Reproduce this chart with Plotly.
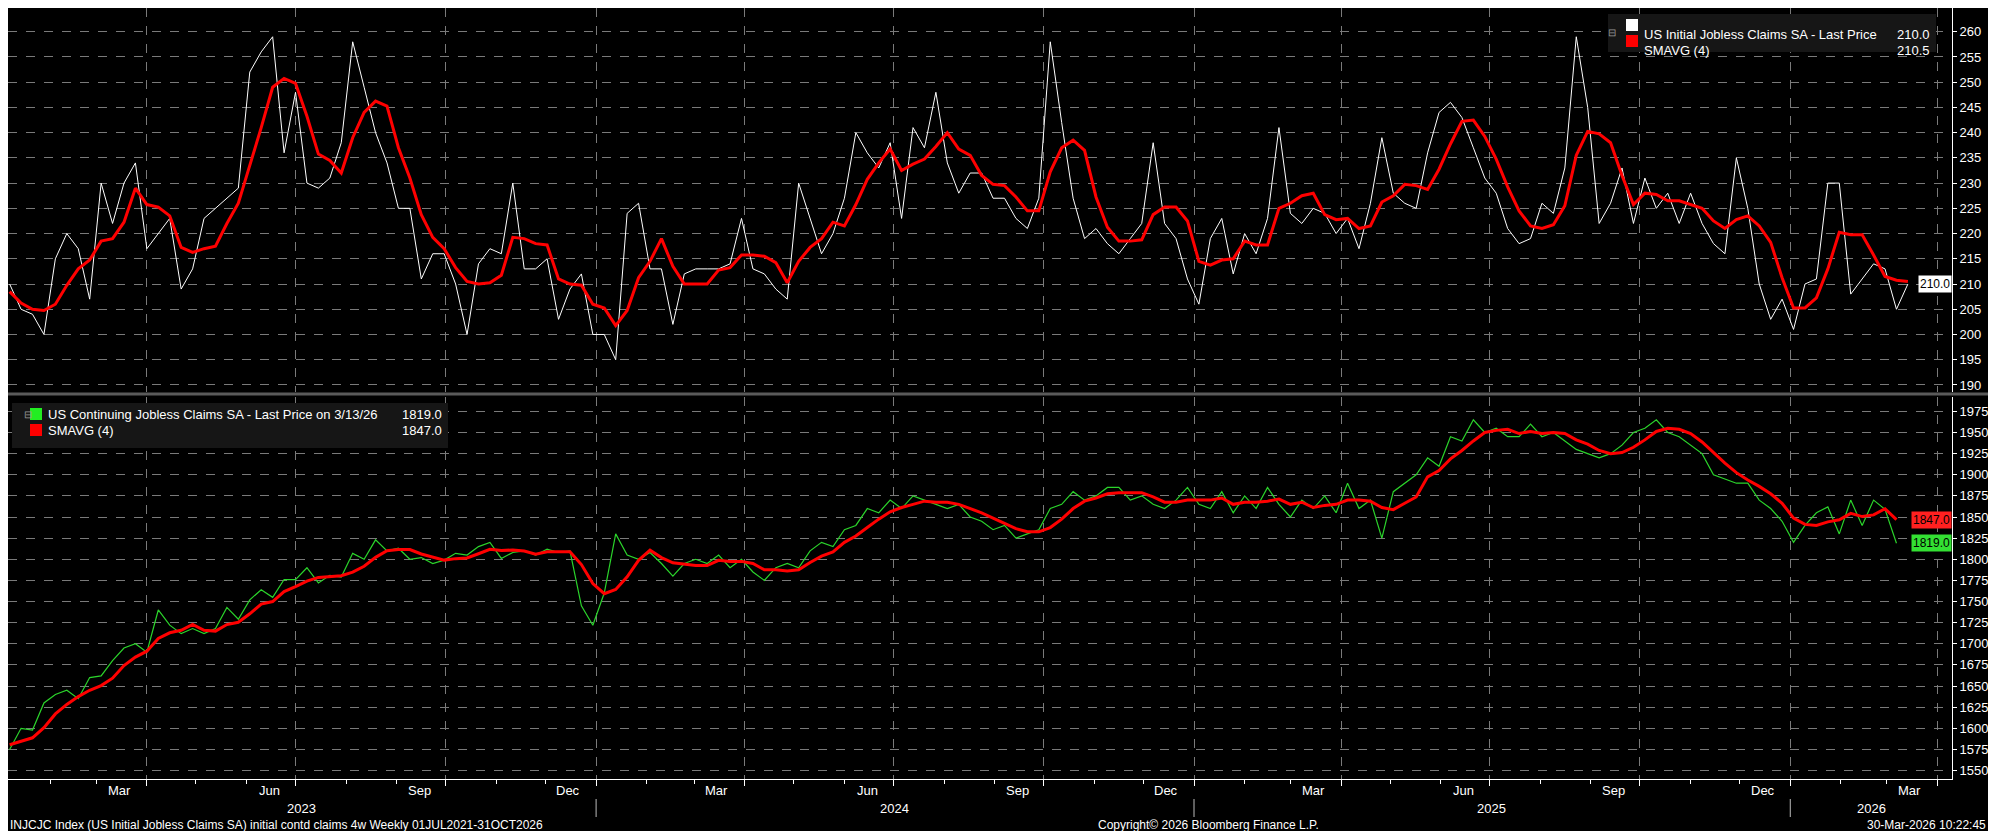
import pandas as pd
import plotly.graph_objects as go
from plotly.subplots import make_subplots

# weekly readings, thousands (first 3 = Dec 2022, only feed the moving average)
initial_prior = [214, 209, 201]
initial_claims = [
    210, 205, 204, 200, 215, 220, 217, 207, 230, 222, 230, 234, 217, 220, 223, 209, 213, 223, 225, 227,
    229, 252, 256, 259, 236, 248, 230, 229, 231, 238, 258, 249, 240, 234, 225,
    225, 211, 216, 216, 210, 200, 214, 217, 216, 230, 213, 213, 215, 203, 209, 212, 200, 200, 195, 224,
    226, 213, 213, 202, 212, 213, 213, 213, 214, 223, 213, 212, 209, 207,
    230, 223, 216, 220, 227, 240, 236, 233, 238, 223, 241, 237, 248, 234, 228, 232, 232, 227, 227, 223,
    221, 227, 258, 242, 227, 219, 221, 218, 216, 219, 222, 238, 222, 219,
    211, 206, 219, 223, 212, 220, 216, 223, 241, 224, 222, 225, 224, 220, 223, 217, 226, 239, 228, 226,
    225, 236, 244, 246, 243, 237, 231, 228, 221, 218, 219, 226, 224, 233,
    259, 245, 222, 226, 233, 222, 231, 225, 228, 222, 228, 222, 218, 216, 235, 225, 210, 203, 207, 201,
    210, 211, 230, 230, 208, 211, 214, 213, 205, 210,
]

cont_prior = [1585, 1580, 1582]
cont_claims = [
    1575, 1600, 1598, 1630, 1640, 1645, 1635, 1660, 1662, 1680, 1695, 1700, 1690, 1740, 1722, 1712, 1718, 1712, 1718,
    1743, 1729, 1752, 1764, 1755, 1776, 1776, 1790, 1772, 1781, 1779, 1807, 1800, 1823, 1810, 1813, 1800, 1802,
    1795, 1799, 1807, 1805, 1815, 1820, 1801,
    1808, 1810, 1805, 1812, 1808, 1810, 1745, 1722, 1760, 1830,
    1805, 1800, 1808, 1795, 1780, 1795, 1800, 1795, 1805, 1790,
    1800, 1785, 1775, 1790, 1795, 1790, 1810, 1820, 1815, 1835,
    1840, 1860, 1855, 1870, 1860, 1875, 1870, 1865, 1860, 1865,
    1850, 1845, 1835, 1840, 1825, 1830, 1835, 1860, 1865, 1880,
    1870, 1875, 1885, 1885, 1870, 1875, 1865, 1860, 1870, 1885,
    1865, 1860, 1880, 1855, 1875, 1860, 1885, 1865, 1850, 1870,
    1860, 1875, 1855, 1890, 1860, 1870, 1825, 1880, 1890, 1900,
    1920, 1910, 1945, 1940, 1965,
    1950, 1955, 1945, 1945, 1960, 1945, 1950, 1940, 1930, 1925, 1920, 1925, 1935, 1950, 1955, 1965,
    1950, 1945, 1935, 1925, 1900, 1895, 1890, 1890, 1870, 1860, 1845, 1820, 1840, 1855, 1862, 1830,
    1870, 1840, 1870, 1859, 1819,
]

month_labels = ["Mar", "Jun", "Sep", "Dec"]
years = [2023, 2024, 2025, 2026]

init_dates = pd.date_range("2022-12-17", periods=len(initial_prior) + len(initial_claims), freq="7D")
cont_dates = pd.date_range("2022-12-17", periods=len(cont_prior) + len(cont_claims), freq="7D")
init = pd.Series(initial_prior + initial_claims, index=init_dates)
cont = pd.Series(cont_prior + cont_claims, index=cont_dates)
init_sma = init.rolling(4).mean().iloc[3:]
cont_sma = cont.rolling(4).mean().iloc[3:]
init = init.iloc[3:]
cont = cont.iloc[3:]

x0, x1 = "2023-01-06", "2026-04-10"
W, H = 1944, 771   # plot area in px
FONT = "Liberation Sans Narrow, Arial Narrow, Liberation Sans, sans-serif"
FS = 13

fig = make_subplots(rows=2, cols=1, shared_xaxes=True, vertical_spacing=0.006)
fig.add_trace(go.Scatter(x=init.index, y=init.values, mode="lines",
                         line=dict(color="#ffffff", width=1)), row=1, col=1)
fig.add_trace(go.Scatter(x=init_sma.index, y=init_sma.values, mode="lines",
                         line=dict(color="#ff0000", width=3)), row=1, col=1)
fig.add_trace(go.Scatter(x=cont.index, y=cont.values, mode="lines",
                         line=dict(color="#2bd42b", width=1.2)), row=2, col=1)
fig.add_trace(go.Scatter(x=cont_sma.index, y=cont_sma.values, mode="lines",
                         line=dict(color="#ff0000", width=3)), row=2, col=1)

quarters = pd.date_range("2023-01-01", "2026-04-01", freq="QS")
xcommon = dict(range=[x0, x1], tickvals=quarters, showgrid=True, gridcolor="#7a7a7a",
               griddash="dash", gridwidth=1, zeroline=False, showticklabels=False)
fig.update_xaxes(**xcommon, row=1, col=1)
fig.update_xaxes(**xcommon, ticks="outside", ticklen=6, tickcolor="#ffffff",
                 showline=True, linecolor="#ffffff", linewidth=1,
                 minor=dict(dtick="M1", ticks="outside", ticklen=4, tickcolor="#ffffff", showgrid=False),
                 row=2, col=1)

ycommon = dict(side="right", showgrid=True, gridcolor="#7a7a7a", griddash="dash", gridwidth=1,
               zeroline=False, ticks="outside", ticklen=4, tickcolor="#ffffff",
               showline=True, linecolor="#ffffff", linewidth=1,
               tickfont=dict(color="#ffffff", size=FS, family=FONT))
fig.update_yaxes(**ycommon, range=[188.6, 264.7], dtick=5, row=1, col=1)
fig.update_yaxes(**ycommon, range=[1540, 1992], dtick=25, row=2, col=1)

def py(px):
    # px below the top of the plot area -> paper y
    return 1 - px / H

ann = []
# month and year labels
for yr in years:
    for i, m in enumerate(month_labels):
        d = pd.Timestamp(yr, 3 + 3 * i, 15)
        if pd.Timestamp(x0) < d < pd.Timestamp(x1):
            ann.append(dict(x=d, xref="x2", y=py(H + 11), yref="paper", text=m, showarrow=False,
                            font=dict(color="#ffffff", size=FS, family=FONT), yanchor="middle"))
    lo = max(pd.Timestamp(yr, 1, 1), pd.Timestamp(x0))
    hi = min(pd.Timestamp(yr, 12, 31), pd.Timestamp(x1))
    ann.append(dict(x=lo + (hi - lo) / 2, xref="x2", y=py(H + 29), yref="paper", text=str(yr),
                    showarrow=False, font=dict(color="#ffffff", size=FS, family=FONT), yanchor="middle"))

shapes = []
for yr in years[1:]:
    shapes.append(dict(type="line", xref="x2", yref="paper", x0=pd.Timestamp(yr, 1, 1),
                       x1=pd.Timestamp(yr, 1, 1), y0=py(H + 20), y1=py(H + 38),
                       line=dict(color="#bbbbbb", width=1)))
# panel separator
shapes.append(dict(type="line", xref="paper", yref="paper", x0=0, x1=1.03, y0=py(386), y1=py(386),
                   line=dict(color="#5a5a5a", width=3)))

# last value boxes
def last_box(y, yref, text, bg):
    ann.append(dict(x=1, xref="paper", xanchor="right", y=y, yref=yref, text=text, showarrow=False,
                    bgcolor=bg, font=dict(color="#000000", size=12, family=FONT), borderpad=1))

last_box(initial_claims[-1], "y", f"{initial_claims[-1]:.1f}", "#ffffff")
last_box(cont_sma.iloc[-1], "y2", f"{cont_sma.iloc[-1]:.1f}", "#ff2020")
last_box(cont_claims[-1], "y2", f"{cont_claims[-1]:.1f}", "#33e033")

# legends
def legend_box(px0, py0, px1, py1, rows):
    shapes.append(dict(type="rect", xref="paper", yref="paper", x0=px0 / W, x1=px1 / W,
                       y0=py(py1), y1=py(py0), fillcolor="#161616", line=dict(width=0), layer="above"))
    for k, (col, label, val) in enumerate(rows):
        cy = py0 + 11 + k * 16
        shapes.append(dict(type="rect", xref="paper", yref="paper", x0=(px0 + 18) / W, x1=(px0 + 30) / W,
                           y0=py(cy + 6), y1=py(cy - 6), fillcolor=col,
                           line=dict(width=0), layer="above"))
        ann.append(dict(x=(px0 + 34) / W, xref="paper", xanchor="left", y=py(cy), yref="paper",
                        text=label, showarrow=False, font=dict(color="#ffffff", size=FS, family=FONT)))
        ann.append(dict(x=(px1 - 4) / W, xref="paper", xanchor="right", y=py(cy), yref="paper",
                        text=val, showarrow=False, font=dict(color="#ffffff", size=FS, family=FONT)))
    ann.append(dict(x=(px0 + 10) / W, xref="paper", y=py(py0 + 11), yref="paper", text="⊟",
                    showarrow=False, font=dict(color="#999999", size=10)))

legend_box(1600, 6, 1928, 44, [
    ("#ffffff", "US Initial Jobless Claims SA - Last Price", f"{initial_claims[-1]:.1f}"),
    ("#ff0000", "SMAVG (4)", f"{init_sma.iloc[-1]:.1f}"),
])
legend_box(4, 395, 440, 440, [
    ("#22ee22", "US Continuing Jobless Claims SA - Last Price on 3/13/26", f"{cont_claims[-1]:.1f}"),
    ("#ff0000", "SMAVG (4)", f"{cont_sma.iloc[-1]:.1f}"),
])

# footer
foot = dict(color="#ffffff", size=12, family=FONT)
ann.append(dict(x=0, xref="paper", xanchor="left", y=py(H + 46), yref="paper", showarrow=False, font=foot,
                yanchor="middle",
                text="INJCJC Index (US Initial Jobless Claims SA) initial contd claims 4w Weekly 01JUL2021-31OCT2026"))
ann.append(dict(x=1200 / W, xref="paper", y=py(H + 46), yref="paper", showarrow=False, font=foot,
                yanchor="middle", text="Copyright© 2026 Bloomberg Finance L.P."))
ann.append(dict(x=1980 / W, xref="paper", xanchor="right", y=py(H + 46), yref="paper", showarrow=False,
                font=foot, yanchor="middle", text="30-Mar-2026 10:22:45"))

fig.update_layout(
    width=1996, height=831,
    margin=dict(l=0, r=52, t=0, b=60),
    paper_bgcolor="#000000", plot_bgcolor="#000000",
    showlegend=False,
    annotations=ann, shapes=shapes,
    font=dict(family=FONT, color="#ffffff"),
)
fig.update_layout(yaxis_domain=[py(384), 1], yaxis2_domain=[0, py(389)])

fig.write_html("out.html")
